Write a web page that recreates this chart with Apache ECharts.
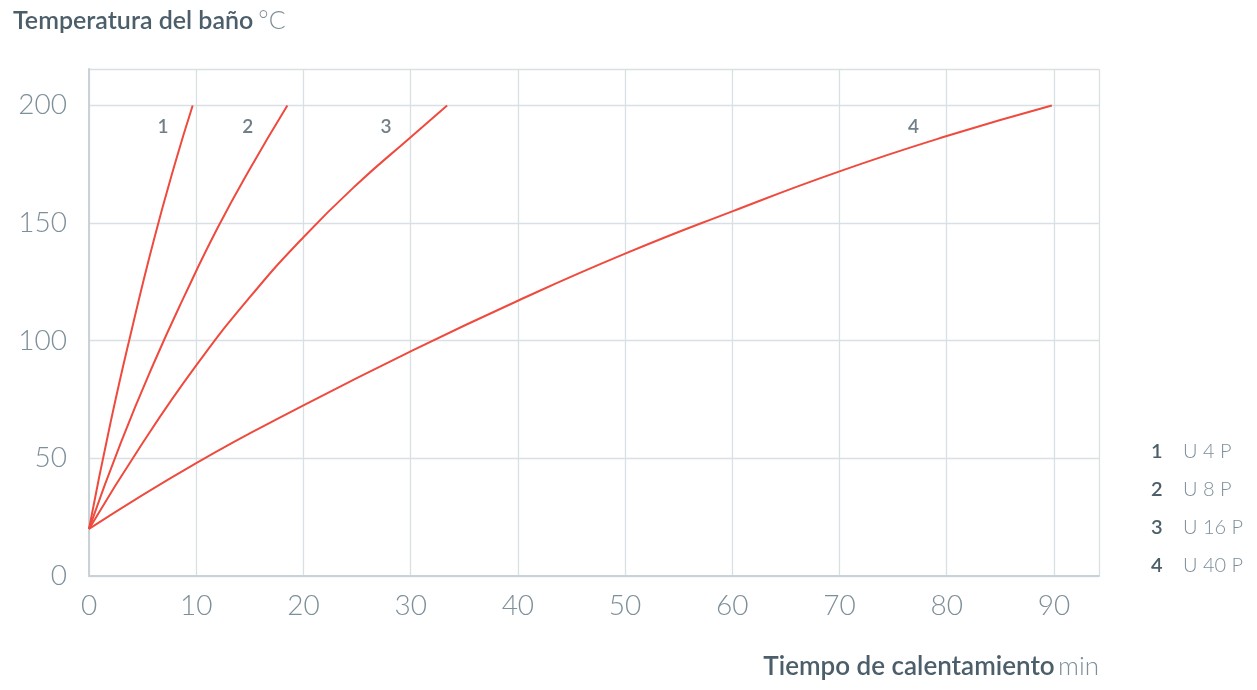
<!DOCTYPE html>
<html><head><meta charset="utf-8">
<script src="https://cdn.jsdelivr.net/npm/echarts@6/dist/echarts.min.js"></script>
<style>html,body{margin:0;padding:0;background:#fff}#c{width:1257px;height:690px}</style>
</head><body><div id="c"></div>
<script>
const curve1 = [[0,20],[2,65],[4,105],[6,142],[8,175],[9.67,200]];
const curve2 = [[0,20],[3,57],[6,90],[9,120],[12,148],[15,173],[18.5,200]];
const curve3 = [[0,20],[5,56.5],[10,89.5],[15,118.5],[20,144],[25,166.5],[30,186.5],[33.4,200]];
const curve4 = [[0,20],[10,48],[20,72.5],[30,95.5],[40,117],[50,137],[60,155],[70,172],[80,187],[89.8,200]];
const curveLabels = [[6.9,191,'1'],[14.8,191,'2'],[27.7,191,'3'],[76.9,191,'4']];
const legendNums = ['1','2','3','4'];
const legendNames = ['U 4 P','U 8 P','U 16 P','U 40 P'];
const xTicks = [0,10,20,30,40,50,60,70,80,90];
const yTicks = [0,50,100,150,200];

const red = '#ef4a3e';
const dark = '#4b5e69';
const light = '#7d8f99';
const mk = d => ({type:'line', data:d, smooth:0.5, symbol:'none',
  lineStyle:{color:red,width:2}, silent:true});

const graphics = [];
legendNums.forEach((n,i)=>{
  graphics.push({type:'text', left:1151, top:442+i*38, style:{text:n, font:'600 20px Lato', fill:dark}});
  graphics.push({type:'text', left:1183, top:442+i*38, style:{text:legendNames[i], font:'300 20px Lato', fill:light}});
});

const chart = echarts.init(document.getElementById('c'));
chart.setOption({
  animation:false,
  title:{left:8, top:3, text:'{b|Temperatura del baño} {l|°C}',
    textStyle:{rich:{b:{fontFamily:'Lato',fontWeight:600,fontSize:25,color:dark},
                     l:{fontFamily:'Lato',fontWeight:300,fontSize:25,color:light}}}},
  graphic:graphics.concat([{type:'text', right:158, top:654,
    style:{rich:{b:{font:'600 26px Lato',fill:dark},l:{font:'300 26px Lato',fill:light}},
      text:'{b|Tiempo de calentamiento} {l|min}', align:'right'}}]),
  grid:{left:89, right:158, top:69, bottom:114},
  xAxis:{type:'value', min:0, max:94.2, interval:10,
    axisLine:{show:true,lineStyle:{color:'#c9d2d9',width:2}}, axisTick:{show:false},
    splitLine:{show:true,lineStyle:{color:'#d9e0e5',width:1.3}},
    axisLabel:{fontFamily:'Lato',fontWeight:300,fontSize:28,color:light,margin:16,
      customValues:xTicks, formatter:v=>v}},
  yAxis:{type:'value', min:0, max:215.5, interval:50,
    axisLine:{show:true,lineStyle:{color:'#c9d2d9',width:2}}, axisTick:{show:false},
    splitLine:{show:true,lineStyle:{color:'#d9e0e5',width:1.3}},
    axisLabel:{fontFamily:'Lato',fontWeight:300,fontSize:28,color:light,margin:22,
      customValues:yTicks, formatter:v=>v}},
  series:[mk(curve1),mk(curve2),mk(curve3),mk(curve4),
    {type:'scatter', data:curveLabels.map(d=>({value:[d[0],d[1]], name:d[2]})), symbolSize:0,
     label:{show:true, position:'inside', formatter:p=>p.name, fontFamily:'Lato', fontWeight:600, fontSize:19, color:dark}, silent:true}]
});
</script></body></html>
